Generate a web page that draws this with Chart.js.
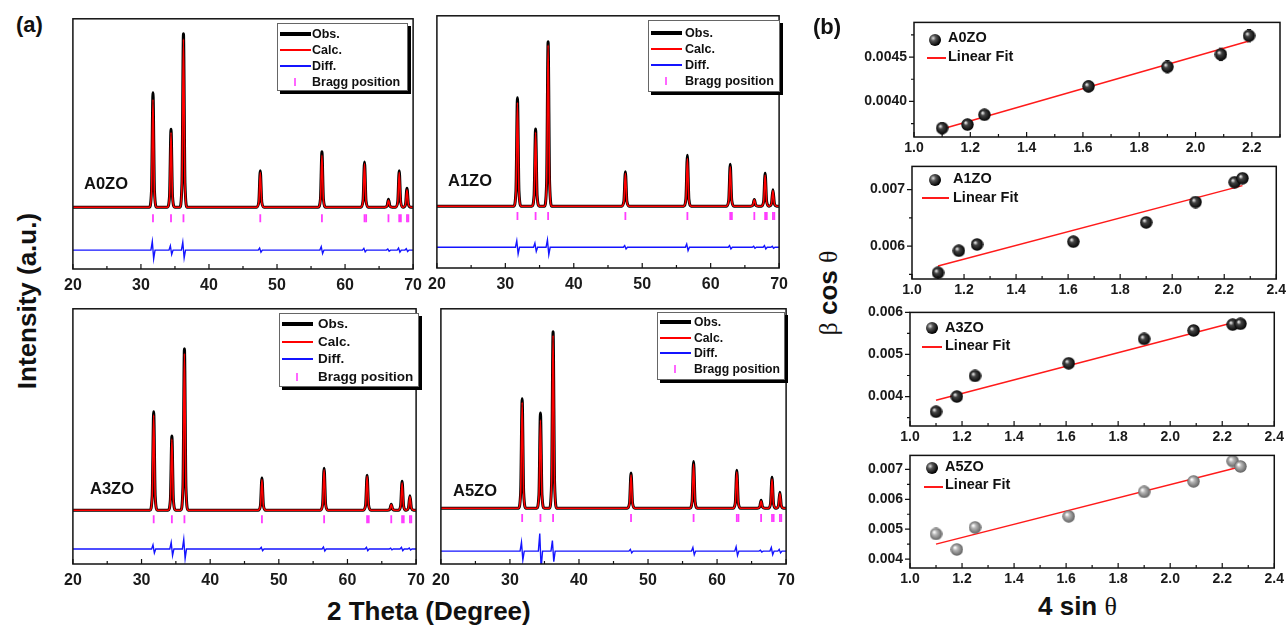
<!DOCTYPE html>
<html>
<head>
<meta charset="utf-8">
<script src="https://cdn.jsdelivr.net/npm/chart.js@4.4.1/dist/chart.umd.min.js"></script>
<style>
  body { margin:0; width:1287px; height:626px; overflow:hidden; position:relative; background:#fff;
         font-family:"Liberation Sans", Arial, sans-serif; font-weight:bold; color:#111; }
  canvas { position:absolute; }
  .txt { position:absolute; white-space:nowrap; line-height:1; transform:translateY(-50%); }
  .rot { position:absolute; white-space:nowrap; line-height:1; transform:translate(-50%,-50%) rotate(-90deg); }
  .serif { font-family:"Liberation Serif", "DejaVu Serif", serif; font-weight:normal; }
  .leg { position:absolute; background:#fff; border:1px solid #666; box-shadow:3px 3px 0 #000; }
  .leg .row { position:absolute; left:0; right:0; height:0; }
  .leg .smp { position:absolute; top:0; transform:translateY(-50%); }
  .leg .lab { position:absolute; top:0; line-height:1; transform:translateY(-50%); white-space:nowrap; }
  .ball { position:absolute; width:12px; height:12px; border-radius:50%; transform:translate(-50%,-50%);
          background:radial-gradient(circle at 35% 35%, #ddd 0, #555 25%, #000 70%); }
</style>
</head>
<body>
<script>
// ---------- XRD data (2 theta, relative intensity) ----------
const peakPos  = [31.77, 34.42, 36.25, 47.54, 56.60, 62.86, 66.38, 67.96, 69.10];
const braggPos = [31.77, 34.42, 36.25, 47.54, 56.60, 62.86, 63.10, 66.38, 67.96, 68.20, 69.10, 69.30];
const xrdTickLabels = [20, 30, 40, 50, 60, 70];
// peak outline: offset from centre (deg) and share of peak height
const peakShapeDx   = [-0.55, -0.22, 0, 0.22, 0.55];
const peakShapeFrac = [0, 0.14, 1, 0.14, 0];

const obsA0ZO  = [66, 45, 100, 21, 32, 26, 4.6, 21, 11];
const calcA0ZO = [62, 43, 97, 20, 30, 25, 4, 20, 10];
const diffA0ZO = [5, 2.5, 4.5, 1.2, 2, 1, 0.6, 1.2, 0.8];

const obsA1ZO  = [66, 47, 100, 21, 31, 25.5, 4, 20, 10];
const calcA1ZO = [63, 45, 98, 20, 29, 24, 4, 19, 9.5];
const diffA1ZO = [4, 2.5, 4.5, 1, 2, 1, 0.6, 1, 0.6];

const obsA3ZO  = [61, 46, 100, 20, 26, 21.6, 3.7, 18, 9];
const calcA3ZO = [59, 44, 97, 19, 25, 21, 3.5, 17, 8.5];
const diffA3ZO = [2.5, 4, 6, 1, 1.2, 1, 0.5, 1, 0.6];

const obsA5ZO  = [62, 54, 100, 20, 26.5, 21.5, 4.5, 17.5, 9];
const calcA5ZO = [60, 50, 98, 19, 25, 20.5, 4, 16.5, 8.5];
const diffA5ZO = [5, 10, 6, 1, 2, 2.5, 0.5, 2, 1];

const xrdLegend = ['Obs.', 'Calc.', 'Diff.', 'Bragg position'];

// ---------- Williamson-Hall data (4 sin theta, beta cos theta) ----------
const sinA0ZO  = [1.10, 1.19, 1.25, 1.62, 1.90, 2.09, 2.19];
const betaA0ZO = [0.00370, 0.00374, 0.00385, 0.00417, 0.00439, 0.00453, 0.00474];
const errA0ZO  = [0.00006, 0.00005, 0.00005, 0.00006, 0.00007, 0.00007, 0.00007];
const fitXA0ZO = [1.10, 2.19];
const fitYA0ZO = [0.00369, 0.00468];

const sinA1ZO  = [1.10, 1.18, 1.25, 1.62, 1.90, 2.09, 2.24, 2.27];
const betaA1ZO = [0.00553, 0.00592, 0.00603, 0.00608, 0.00642, 0.00678, 0.00713, 0.00720];
const errA1ZO  = [0, 0, 0, 0, 0, 0, 0, 0];
const fitXA1ZO = [1.10, 2.27];
const fitYA1ZO = [0.00565, 0.00707];

const sinA3ZO  = [1.10, 1.18, 1.25, 1.61, 1.90, 2.09, 2.24, 2.27];
const betaA3ZO = [0.00364, 0.00400, 0.00449, 0.00479, 0.00537, 0.00557, 0.00571, 0.00573];
const errA3ZO  = [0.00003, 0.00003, 0.00003, 0.00006, 0.00008, 0.00008, 0.00009, 0.00006];
const fitXA3ZO = [1.10, 2.27];
const fitYA3ZO = [0.00391, 0.00580];

const sinA5ZO  = [1.10, 1.18, 1.25, 1.61, 1.90, 2.09, 2.24, 2.27];
const betaA5ZO = [0.00484, 0.00432, 0.00506, 0.00543, 0.00625, 0.00660, 0.00728, 0.00710];
const errA5ZO  = [0.00010, 0.00008, 0.00010, 0.00012, 0.00012, 0.00014, 0.00014, 0.00012];
const fitXA5ZO = [1.10, 2.27];
const fitYA5ZO = [0.00450, 0.00709];

const FONT = '"Liberation Sans", Arial, sans-serif';

// ---------- helpers ----------
function peakCurve(heights) {
  const pts = [{ x: 20, y: 0 }];
  peakPos.forEach((p, i) => {
    peakShapeDx.forEach((dx, k) => pts.push({ x: p + dx, y: heights[i] * peakShapeFrac[k] }));
  });
  pts.push({ x: 70, y: 0 });
  return pts;
}

function diffCurve(amp, base) {
  const pts = [{ x: 20, y: base }];
  peakPos.forEach((p, i) => {
    pts.push({ x: p - 0.3, y: base }, { x: p - 0.1, y: base + amp[i] },
             { x: p + 0.1, y: base - amp[i] }, { x: p + 0.3, y: base });
  });
  pts.push({ x: 70, y: base });
  return pts;
}

function addCanvas(left, top, w, h) {
  const c = document.createElement('canvas');
  c.width = w; c.height = h;
  c.style.left = left + 'px'; c.style.top = top + 'px';
  document.body.appendChild(c);
  return c;
}

function addText(html, left, top, size, cls) {
  const d = document.createElement('div');
  d.className = cls || 'txt';
  d.style.left = left + 'px'; d.style.top = top + 'px'; d.style.fontSize = size + 'px';
  d.innerHTML = html;
  document.body.appendChild(d);
  return d;
}

function sphere(light, mid, dark) {
  const c = document.createElement('canvas');
  c.width = 13; c.height = 13;
  const g = c.getContext('2d');
  const grad = g.createRadialGradient(4.5, 4.5, 0.5, 6.5, 6.5, 6.5);
  grad.addColorStop(0, light);
  grad.addColorStop(0.3, mid);
  grad.addColorStop(1, dark);
  g.fillStyle = grad;
  g.beginPath(); g.arc(6.5, 6.5, 6.2, 0, Math.PI * 2); g.fill();
  return c;
}

// box frame + inward x ticks + outward y ticks, taken from the scales
const framePlugin = {
  id: 'frame',
  afterDraw(chart) {
    const { ctx, chartArea: a, scales } = chart;
    ctx.save();
    ctx.strokeStyle = '#111';
    ctx.lineWidth = 1.5;
    ctx.strokeRect(a.left, a.top, a.right - a.left, a.bottom - a.top);
    ctx.lineWidth = 1.2;
    ctx.beginPath();
    scales.x.ticks.forEach(t => {
      const px = scales.x.getPixelForValue(t.value);
      const len = t.label !== '' ? 5 : 3;
      ctx.moveTo(px, a.bottom); ctx.lineTo(px, a.bottom - len);
    });
    if (scales.y.options.display) {
      scales.y.ticks.forEach(t => {
        const py = scales.y.getPixelForValue(t.value);
        const len = t.label !== '' ? 5 : 3;
        ctx.moveTo(a.left, py); ctx.lineTo(a.left - len, py);
      });
    }
    ctx.stroke();
    ctx.restore();
  }
};

// vertical error bars from each dataset's "errors" list
const errorBarPlugin = {
  id: 'errbars',
  beforeDatasetsDraw(chart) {
    const { ctx, scales } = chart;
    chart.data.datasets.forEach(ds => {
      if (!ds.errors) return;
      ctx.save();
      ctx.strokeStyle = ds.errorColor || '#222';
      ctx.lineWidth = 1;
      ds.data.forEach((d, j) => {
        const e = ds.errors[j];
        if (!e) return;
        const px = scales.x.getPixelForValue(d.x);
        const y1 = scales.y.getPixelForValue(d.y + e);
        const y2 = scales.y.getPixelForValue(d.y - e);
        ctx.beginPath();
        ctx.moveTo(px, y1); ctx.lineTo(px, y2);
        ctx.moveTo(px - 2, y1); ctx.lineTo(px + 2, y1);
        ctx.moveTo(px - 2, y2); ctx.lineTo(px + 2, y2);
        ctx.stroke();
      });
      ctx.restore();
    });
  }
};

// ---------- XRD panels ----------
function xrdChart(pos, obs, calc, diff, yMin, yMax, braggY, diffY) {
  const c = addCanvas(pos[0], pos[1], pos[2], pos[3]);
  return new Chart(c, {
    type: 'line',
    data: {
      datasets: [
        { label: xrdLegend[0], data: peakCurve(obs), borderColor: '#000', borderWidth: 3,
          pointRadius: 0, cubicInterpolationMode: 'monotone', order: 3 },
        { label: xrdLegend[1], data: peakCurve(calc), borderColor: '#ff0000', borderWidth: 1.6,
          pointRadius: 0, cubicInterpolationMode: 'monotone', order: 2 },
        { label: xrdLegend[2], data: diffCurve(diff, diffY), borderColor: '#1414ff', borderWidth: 1.4,
          pointRadius: 0, tension: 0, order: 1 },
        { label: xrdLegend[3], data: braggPos.map(x => ({ x: x, y: braggY })), showLine: false,
          pointStyle: 'line', rotation: 90, pointRadius: 4, borderColor: '#ff3cff', borderWidth: 1.8, order: 0 }
      ]
    },
    options: {
      responsive: false, animation: false, events: [],
      layout: { padding: { left: 15, right: 15, top: 5, bottom: 0 } },
      plugins: { legend: { display: false }, tooltip: { enabled: false } },
      scales: {
        x: {
          type: 'linear', min: 20, max: 70,
          grid: { display: false, drawTicks: false }, border: { display: false },
          ticks: { stepSize: 5, autoSkip: false, maxRotation: 0, padding: 7, color: '#1a1a1a',
                   font: { family: FONT, size: 16, weight: 'bold' },
                   callback: v => xrdTickLabels.includes(v) ? v : '' },
          afterFit: s => { s.height = 25; }
        },
        y: { display: false, min: yMin, max: yMax }
      }
    },
    plugins: [framePlugin]
  });
}

xrdChart([57, 13, 372, 281], obsA0ZO, calcA0ZO, diffA0ZO, -35.6, 108.6, -6.3, -24.7);
xrdChart([421, 10, 374, 283], obsA1ZO, calcA1ZO, diffA1ZO, -37.6, 115.8, -6.0, -25.0);
xrdChart([57, 303, 375, 286], obsA3ZO, calcA3ZO, diffA3ZO, -33.3, 124.7, -5.6, -24.0);
xrdChart([425, 303, 377, 286], obsA5ZO, calcA5ZO, diffA5ZO, -31.6, 113.0, -5.6, -24.3);

// ---------- W-H panels ----------
const blackBall = sphere('#e6e6e6', '#444', '#000');
const greyBall = sphere('#ffffff', '#b8b8b8', '#5c5c5c');

function whChart(pos, xs, ys, errs, fitX, fitY, ball, xMax, yMin, yMax, yStep, yLabelStep, dec) {
  const c = addCanvas(pos[0], pos[1], pos[2], pos[3]);
  return new Chart(c, {
    type: 'scatter',
    data: {
      datasets: [
        { data: xs.map((x, i) => ({ x: x, y: ys[i] })), errors: errs, pointStyle: ball, pointRadius: 6 },
        { data: fitX.map((x, i) => ({ x: x, y: fitY[i] })), showLine: true, pointRadius: 0,
          borderColor: '#ff1a1a', borderWidth: 1.5 }
      ]
    },
    options: {
      responsive: false, animation: false, events: [],
      layout: { padding: { left: 5, right: 12, top: 8, bottom: 0 } },
      plugins: { legend: { display: false }, tooltip: { enabled: false } },
      scales: {
        x: {
          type: 'linear', min: 1.0, max: xMax,
          grid: { display: false, drawTicks: false }, border: { display: false },
          ticks: { stepSize: 0.1, autoSkip: false, maxRotation: 0, padding: 3, color: '#1a1a1a',
                   font: { family: FONT, size: 14, weight: 'bold' },
                   callback: v => Math.round(v * 10) % 2 === 0 ? v.toFixed(1) : '' },
          afterFit: s => { s.height = 22; }
        },
        y: {
          min: yMin, max: yMax,
          grid: { display: false, drawTicks: false }, border: { display: false },
          ticks: { stepSize: yStep, includeBounds: false, autoSkip: false, padding: 7, color: '#1a1a1a',
                   font: { family: FONT, size: 14, weight: 'bold' },
                   callback: v => Math.abs(v / yLabelStep - Math.round(v / yLabelStep)) < 1e-3 ? v.toFixed(dec) : '' },
          afterFit: s => { s.width = 50; }
        }
      }
    },
    plugins: [framePlugin, errorBarPlugin]
  });
}

whChart([859, 7, 433, 152], sinA0ZO, betaA0ZO, errA0ZO, fitXA0ZO, fitYA0ZO, blackBall, 2.3, 0.0036, 0.00489, 0.00025, 0.0005, 4);
whChart([857, 151, 432, 150], sinA1ZO, betaA1ZO, errA1ZO, fitXA1ZO, fitYA1ZO, blackBall, 2.4, 0.00542, 0.00741, 0.0005, 0.001, 3);
whChart([855, 297, 432, 151], sinA3ZO, betaA3ZO, errA3ZO, fitXA3ZO, fitYA3ZO, blackBall, 2.4, 0.0033, 0.0060, 0.0005, 0.001, 3);
whChart([855, 440, 432, 150], sinA5ZO, betaA5ZO, errA5ZO, fitXA5ZO, fitYA5ZO, greyBall, 2.4, 0.0037, 0.00747, 0.0005, 0.001, 3);

// ---------- XRD legends ----------
function xrdLegendBox(b) {
  const box = document.createElement('div');
  box.className = 'leg';
  box.style.cssText = `left:${b.left}px;top:${b.top}px;width:${b.w}px;height:${b.h}px;font-size:${b.font}px`;
  const samples = [
    'width:31px;height:4px;background:#000',
    'width:31px;height:2px;background:#ff0000',
    'width:31px;height:2px;background:#1414ff',
    'width:2px;height:8px;background:#ff66ff;margin-left:14px'
  ];
  xrdLegend.forEach((name, i) => {
    const row = document.createElement('div');
    row.className = 'row';
    row.style.top = (b.y0 + i * b.dy) + 'px';
    row.innerHTML = `<div class="smp" style="left:2px;${samples[i]}"></div>` +
                    `<div class="lab" style="left:${b.tx}px">${name}</div>`;
    box.appendChild(row);
  });
  document.body.appendChild(box);
}
xrdLegendBox({ left: 277, top: 23, w: 129, h: 66, font: 12.5, y0: 10, dy: 16, tx: 34 });
xrdLegendBox({ left: 648, top: 20, w: 130, h: 70, font: 12.6, y0: 12, dy: 16, tx: 36 });
xrdLegendBox({ left: 279, top: 313, w: 138, h: 72, font: 13.5, y0: 10, dy: 17.5, tx: 38 });
xrdLegendBox({ left: 657, top: 312, w: 126, h: 66, font: 12.2, y0: 9, dy: 15.7, tx: 36 });

// sample names inside XRD panels
addText('A0ZO', 84, 183, 16.5);
addText('A1ZO', 448, 180, 16.5);
addText('A3ZO', 90, 488, 16.5);
addText('A5ZO', 453, 490, 16.5);

// ---------- W-H legends ----------
function whLegend(name, mx, my, tx, ty, lx1, lx2, ly, ty2) {
  const b = document.createElement('div');
  b.className = 'ball';
  b.style.left = mx + 'px'; b.style.top = my + 'px';
  document.body.appendChild(b);
  addText(name, tx, ty, 14.5);
  const l = document.createElement('div');
  l.style.cssText = `position:absolute;left:${lx1}px;top:${ly - 1}px;width:${lx2 - lx1}px;height:2px;background:#ff1a1a`;
  document.body.appendChild(l);
  addText('Linear Fit', tx, ty2, 14.5);
}
whLegend('A0ZO', 935, 40, 948, 37, 927, 946, 58, 56);
whLegend('A1ZO', 935, 180, 953, 178, 922, 949, 198, 197);
whLegend('A3ZO', 932, 328, 945, 327, 922, 942, 347, 345);
whLegend('A5ZO', 932, 468, 945, 466, 924, 943, 487, 484);

// ---------- titles ----------
addText('(a)', 16, 25, 22);
addText('(b)', 813, 27, 22);
addText('Intensity (a.u.)', 27, 301, 26, 'rot');
addText('2 Theta (Degree)', 327, 611, 26);
addText('4 sin <span class="serif">&theta;</span>', 1038, 606, 26);
addText('<span class="serif">&beta;</span> cos <span class="serif">&theta;</span>', 828, 293, 26, 'rot');
</script>
</body>
</html>
